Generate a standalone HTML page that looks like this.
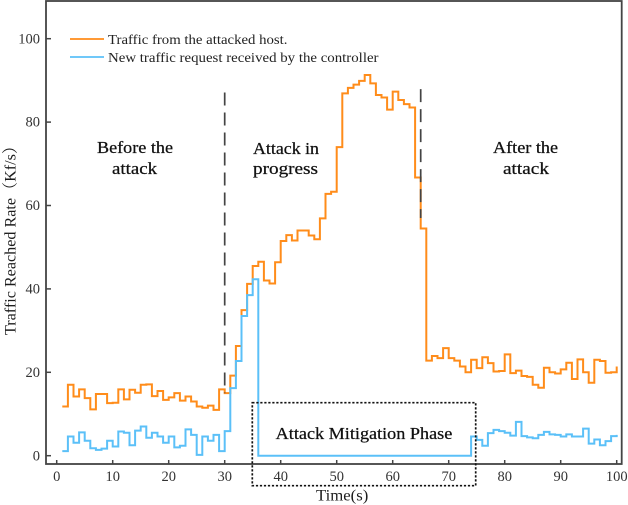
<!DOCTYPE html>
<html lang="en">
<head>
<meta charset="utf-8">
<title>Traffic Reached Rate chart</title>
<style>
html,body{margin:0;padding:0;background:#fff;width:628px;height:505px;overflow:hidden}
svg{display:block;position:absolute;left:0;top:0;filter:blur(0.3px)}
text{font-family:"Liberation Serif","Noto Serif CJK SC",serif}
.tick{font-size:14.5px;fill:#333}
.note{font-size:17px;fill:#111;stroke:#111;stroke-width:0.25px}
.leg{font-size:13.5px;fill:#222}
.title{font-size:16px;fill:#1c1c1c}
</style>
</head>
<body>
<svg id="chart" width="628" height="505" viewBox="0 0 628 505" xmlns="http://www.w3.org/2000/svg">
  <rect x="0" y="0" width="628" height="505" fill="#fff"/>
  <rect x="46" y="1" width="575.7" height="463" fill="none" stroke="#444" stroke-width="1.8"/>
  <g id="axes"></g>
  <g id="marks"></g>

  <g>
    <line x1="70" y1="39" x2="104" y2="39" stroke="#ff8c1a" stroke-width="1.8"/>
    <text class="leg" x="108" y="43.8" textLength="179.5" lengthAdjust="spacingAndGlyphs">Traffic from the attacked host.</text>
    <line x1="70" y1="57" x2="104" y2="57" stroke="#5bc0f8" stroke-width="1.8"/>
    <text class="leg" x="108" y="62" textLength="270.5" lengthAdjust="spacingAndGlyphs">New traffic request received by the controller</text>
  </g>

  <text class="note" x="97" y="153" textLength="76" lengthAdjust="spacingAndGlyphs">Before the</text>
  <text class="note" x="112" y="174" textLength="45" lengthAdjust="spacingAndGlyphs">attack</text>
  <text class="note" x="253" y="154" textLength="66" lengthAdjust="spacingAndGlyphs">Attack in</text>
  <text class="note" x="253" y="174" textLength="65" lengthAdjust="spacingAndGlyphs">progress</text>
  <text class="note" x="493" y="153" textLength="65" lengthAdjust="spacingAndGlyphs">After the</text>
  <text class="note" x="503" y="174" textLength="46" lengthAdjust="spacingAndGlyphs">attack</text>

  <rect x="252.3" y="402.7" width="223.4" height="83" fill="none" stroke="#111" stroke-width="1.7" stroke-dasharray="2.2 1.8"/>
  <text class="note" x="275.7" y="439" textLength="176.6" lengthAdjust="spacingAndGlyphs">Attack Mitigation Phase</text>

  <text class="title" x="316" y="500.5" textLength="52.3" lengthAdjust="spacingAndGlyphs">Time(s)</text>
  <text class="title" transform="translate(15.5 335) rotate(-90)" x="0" y="0" textLength="197" lengthAdjust="spacingAndGlyphs">Traffic Reached Rate（Kf/s）</text>
</svg>

<script>
const timeSeconds = [1,2,3,4,5,6,7,8,9,10,11,12,13,14,15,16,17,18,19,20,21,22,23,24,25,26,27,28,29,30,31,32,33,34,35,36,37,38,39,40,41,42,43,44,45,46,47,48,49,50,51,52,53,54,55,56,57,58,59,60,61,62,63,64,65,66,67,68,69,70,71,72,73,74,75,76,77,78,79,80,81,82,83,84,85,86,87,88,89,90,91,92,93,94,95,96,97,98,99,100];
const attackedHostTraffic = [
  11.8,17,14.2,15.9,13.8,11.1,14.8,14.8,12.6,12.7,
  15.9,13.5,15.8,15.1,17,17.1,14.3,15.5,13.4,14,
  15,13.2,14.2,13,11.8,11.5,12,11,15.9,15,
  19.2,26.3,34.9,41.2,45.5,46.5,42,41.3,46.4,51.5,
  52.9,51.6,54,54,52.8,51.9,56.9,62.8,63.3,74,
  86.9,88.2,89,89.9,91.3,89.3,86.5,85.9,83,87.3,
  85.3,84.3,83.5,66.7,54.5,22.8,23.9,23.4,25.8,23.4,
  22.8,21.4,20,23,21,23.6,22.2,20.2,20.3,24.3,
  19.8,20.4,19.1,18.9,17,16.3,21.1,20,19.7,20.7,
  22.3,18.4,23.1,20,17.5,23,22.7,19.9,20,21.4
];
const controllerRequests = [
  1.1,4.6,3.1,5.6,3.6,1.8,1.4,1.7,3.6,2.2,
  5.8,5.5,2.5,6,7,4.3,5.5,4.6,3.1,4.6,
  2,2.4,6.3,5,0.2,4.6,3.6,5,1.1,5.9,
  16.2,22.7,33.5,38.5,42.3,0,0,0,0,0,
  0,0,0,0,0,0,0,0,0,0,
  0,0,0,0,0,0,0,0,0,0,
  0,0,0,0,0,0,0,0,0,0,
  0,0,0,4.6,3.8,2.4,5.4,6.2,5.9,5.5,
  4.8,8.1,4.7,4.4,4.2,5,5.7,5.1,5,4.6,
  5.1,4.6,4.6,6.5,2.9,3.9,2.5,3.5,4.7,5
];
const xTickValues = [0,10,20,30,40,50,60,70,80,90,100];
const yTickValues = [0,20,40,60,80,100];
const phaseBoundaries = [30,65];
const boundaryTops = [87.1,87.9];
const boundaryBottoms = [15,57];

const NS = 'http://www.w3.org/2000/svg';
const axes = document.getElementById('axes');
const marks = document.getElementById('marks');

function xScale(v){ return 56.7 + 5.6 * v; }
function yScale(v){ return 455.7 - 4.17 * v; }

function stepPath(xs, ys){
  let d = '';
  for (let i = 0; i < xs.length; i++) {
    const px = xScale(xs[i]).toFixed(2);
    const py = yScale(ys[i]).toFixed(2);
    if (i === 0) {
      d += 'M' + px + ' ' + py;
    } else {
      d += 'H' + px + 'V' + py;
    }
  }
  return d;
}

xTickValues.forEach(function(v){
  const tick = document.createElementNS(NS, 'line');
  
  
  tick.setAttribute('x1', xScale(v));
  tick.setAttribute('x2', xScale(v));
  tick.setAttribute('y1', 460);
  tick.setAttribute('y2', 464);
  tick.setAttribute('stroke', '#444');
  tick.setAttribute('stroke-width', '1.5');
  axes.appendChild(tick);
  const label = document.createElementNS(NS, 'text');
  
  
  label.setAttribute('class', 'tick');
  label.setAttribute('x', xScale(v));
  label.setAttribute('y', 481);
  label.setAttribute('text-anchor', 'middle');
  label.textContent = String(v);
  axes.appendChild(label);
});

yTickValues.forEach(function(v){
  const tick = document.createElementNS(NS, 'line');
  
  
  tick.setAttribute('x1', 46);
  tick.setAttribute('x2', 51);
  tick.setAttribute('y1', yScale(v));
  tick.setAttribute('y2', yScale(v));
  tick.setAttribute('stroke', '#444');
  tick.setAttribute('stroke-width', '1.5');
  axes.appendChild(tick);
  const label = document.createElementNS(NS, 'text');
  
  
  label.setAttribute('class', 'tick');
  label.setAttribute('x', 40);
  label.setAttribute('y', yScale(v) + 4.6);
  label.setAttribute('text-anchor', 'end');
  label.textContent = String(v);
  axes.appendChild(label);
});

const orangeLine = document.createElementNS(NS, 'path');


orangeLine.setAttribute('d', stepPath(timeSeconds, attackedHostTraffic));
orangeLine.setAttribute('fill', 'none');
orangeLine.setAttribute('stroke', '#ff8c1a');
orangeLine.setAttribute('stroke-width', '2');
marks.appendChild(orangeLine);

const blueLine = document.createElementNS(NS, 'path');


blueLine.setAttribute('d', stepPath(timeSeconds, controllerRequests));
blueLine.setAttribute('fill', 'none');
blueLine.setAttribute('stroke', '#5bc0f8');
blueLine.setAttribute('stroke-width', '2');
marks.appendChild(blueLine);

phaseBoundaries.forEach(function(v, i){
  const divider = document.createElementNS(NS, 'line');
  
  
  divider.setAttribute('x1', xScale(v));
  divider.setAttribute('x2', xScale(v));
  divider.setAttribute('y1', yScale(boundaryTops[i]));
  divider.setAttribute('y2', yScale(boundaryBottoms[i]));
  divider.setAttribute('stroke', '#444');
  divider.setAttribute('stroke-width', '1.7');
  divider.setAttribute('stroke-dasharray', '13 7');
  marks.appendChild(divider);
});
</script>
</body>
</html>
